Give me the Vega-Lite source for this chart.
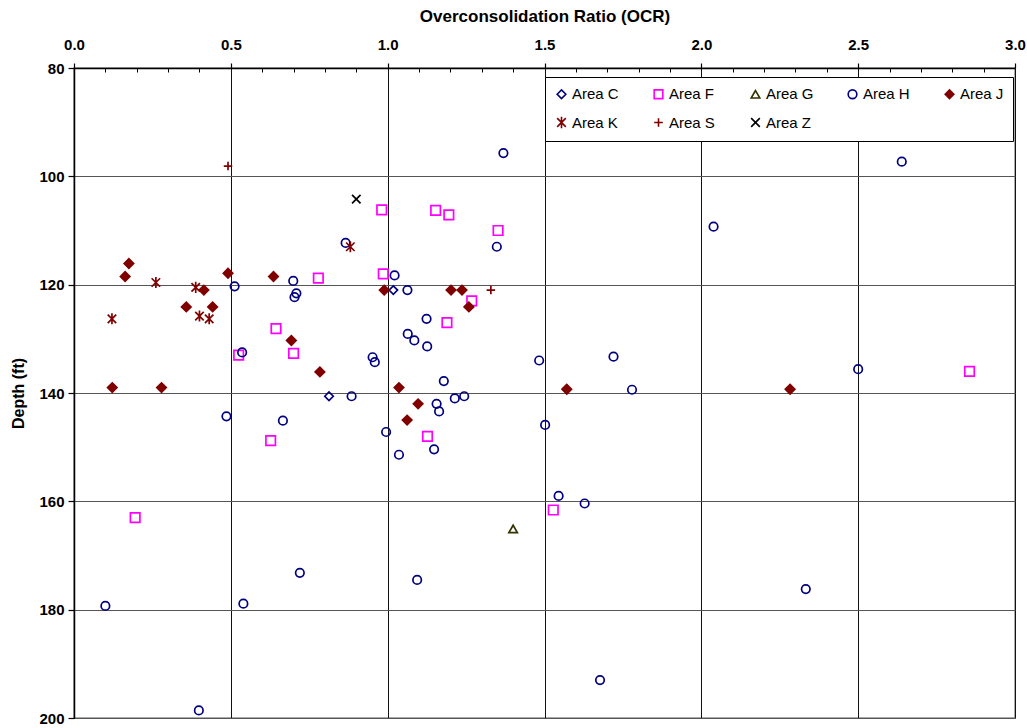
{
  "$schema": "https://vega.github.io/schema/vega-lite/v6.json",
  "autosize": "none",
  "width": 941,
  "height": 650,
  "padding": {"left": 74, "top": 68, "right": 12, "bottom": 10},
  "background": "white",
  "config": {
    "font": "Liberation Sans",
    "view": {"stroke": "#909090", "strokeWidth": 1.5}
  },
  "data": {
    "values": [
      {"area": "Area C", "ocr": 1.018, "depth": 121.0},
      {"area": "Area C", "ocr": 0.813, "depth": 140.6},
      {"area": "Area F", "ocr": 0.981, "depth": 106.2},
      {"area": "Area F", "ocr": 1.153, "depth": 106.3},
      {"area": "Area F", "ocr": 1.195, "depth": 107.1},
      {"area": "Area F", "ocr": 1.352, "depth": 110.0},
      {"area": "Area F", "ocr": 0.779, "depth": 118.8},
      {"area": "Area F", "ocr": 0.986, "depth": 118.0},
      {"area": "Area F", "ocr": 1.268, "depth": 123.0},
      {"area": "Area F", "ocr": 1.189, "depth": 127.0},
      {"area": "Area F", "ocr": 0.644, "depth": 128.1},
      {"area": "Area F", "ocr": 0.525, "depth": 133.0},
      {"area": "Area F", "ocr": 0.700, "depth": 132.7},
      {"area": "Area F", "ocr": 0.627, "depth": 148.8},
      {"area": "Area F", "ocr": 1.127, "depth": 148.0},
      {"area": "Area F", "ocr": 0.195, "depth": 163.0},
      {"area": "Area F", "ocr": 1.528, "depth": 161.6},
      {"area": "Area F", "ocr": 2.855, "depth": 136.0},
      {"area": "Area G", "ocr": 1.400, "depth": 165.1},
      {"area": "Area H", "ocr": 1.369, "depth": 95.7},
      {"area": "Area H", "ocr": 2.639, "depth": 97.3},
      {"area": "Area H", "ocr": 2.039, "depth": 109.3},
      {"area": "Area H", "ocr": 0.866, "depth": 112.3},
      {"area": "Area H", "ocr": 1.348, "depth": 113.0},
      {"area": "Area H", "ocr": 0.699, "depth": 119.3},
      {"area": "Area H", "ocr": 1.022, "depth": 118.3},
      {"area": "Area H", "ocr": 0.512, "depth": 120.3},
      {"area": "Area H", "ocr": 1.063, "depth": 121.0},
      {"area": "Area H", "ocr": 0.709, "depth": 121.6},
      {"area": "Area H", "ocr": 0.703, "depth": 122.3},
      {"area": "Area H", "ocr": 1.124, "depth": 126.3},
      {"area": "Area H", "ocr": 1.064, "depth": 129.1},
      {"area": "Area H", "ocr": 1.085, "depth": 130.3},
      {"area": "Area H", "ocr": 1.126, "depth": 131.4},
      {"area": "Area H", "ocr": 0.536, "depth": 132.5},
      {"area": "Area H", "ocr": 0.952, "depth": 133.4},
      {"area": "Area H", "ocr": 0.959, "depth": 134.3},
      {"area": "Area H", "ocr": 1.483, "depth": 134.0},
      {"area": "Area H", "ocr": 1.720, "depth": 133.3},
      {"area": "Area H", "ocr": 2.500, "depth": 135.6},
      {"area": "Area H", "ocr": 1.179, "depth": 137.8},
      {"area": "Area H", "ocr": 1.779, "depth": 139.4},
      {"area": "Area H", "ocr": 0.885, "depth": 140.6},
      {"area": "Area H", "ocr": 1.244, "depth": 140.6},
      {"area": "Area H", "ocr": 1.214, "depth": 141.0},
      {"area": "Area H", "ocr": 1.156, "depth": 142.0},
      {"area": "Area H", "ocr": 1.164, "depth": 143.4},
      {"area": "Area H", "ocr": 0.486, "depth": 144.3},
      {"area": "Area H", "ocr": 0.666, "depth": 145.1},
      {"area": "Area H", "ocr": 1.502, "depth": 145.9},
      {"area": "Area H", "ocr": 0.995, "depth": 147.2},
      {"area": "Area H", "ocr": 1.148, "depth": 150.4},
      {"area": "Area H", "ocr": 1.036, "depth": 151.4},
      {"area": "Area H", "ocr": 1.545, "depth": 159.0},
      {"area": "Area H", "ocr": 1.628, "depth": 160.4},
      {"area": "Area H", "ocr": 0.720, "depth": 173.2},
      {"area": "Area H", "ocr": 1.094, "depth": 174.5},
      {"area": "Area H", "ocr": 0.100, "depth": 179.3},
      {"area": "Area H", "ocr": 0.540, "depth": 178.9},
      {"area": "Area H", "ocr": 2.333, "depth": 176.2},
      {"area": "Area H", "ocr": 1.677, "depth": 193.0},
      {"area": "Area H", "ocr": 0.398, "depth": 198.6},
      {"area": "Area J", "ocr": 0.175, "depth": 116.1},
      {"area": "Area J", "ocr": 0.163, "depth": 118.5},
      {"area": "Area J", "ocr": 0.491, "depth": 117.9},
      {"area": "Area J", "ocr": 0.636, "depth": 118.5},
      {"area": "Area J", "ocr": 0.414, "depth": 121.0},
      {"area": "Area J", "ocr": 0.989, "depth": 121.0},
      {"area": "Area J", "ocr": 1.202, "depth": 121.0},
      {"area": "Area J", "ocr": 1.237, "depth": 121.0},
      {"area": "Area J", "ocr": 0.358, "depth": 124.1},
      {"area": "Area J", "ocr": 0.442, "depth": 124.1},
      {"area": "Area J", "ocr": 1.259, "depth": 124.1},
      {"area": "Area J", "ocr": 0.693, "depth": 130.3},
      {"area": "Area J", "ocr": 0.784, "depth": 136.1},
      {"area": "Area J", "ocr": 0.122, "depth": 139.0},
      {"area": "Area J", "ocr": 0.279, "depth": 139.0},
      {"area": "Area J", "ocr": 1.036, "depth": 139.0},
      {"area": "Area J", "ocr": 1.571, "depth": 139.3},
      {"area": "Area J", "ocr": 2.283, "depth": 139.3},
      {"area": "Area J", "ocr": 1.097, "depth": 142.0},
      {"area": "Area J", "ocr": 1.062, "depth": 145.0},
      {"area": "Area K", "ocr": 0.881, "depth": 113.0},
      {"area": "Area K", "ocr": 0.261, "depth": 119.6},
      {"area": "Area K", "ocr": 0.388, "depth": 120.5},
      {"area": "Area K", "ocr": 0.121, "depth": 126.3},
      {"area": "Area K", "ocr": 0.400, "depth": 125.8},
      {"area": "Area K", "ocr": 0.431, "depth": 126.3},
      {"area": "Area S", "ocr": 0.491, "depth": 98.1},
      {"area": "Area S", "ocr": 1.329, "depth": 121.0},
      {"area": "Area Z", "ocr": 0.900, "depth": 104.2}
    ]
  },
  "resolve": {"axis": {"x": "independent", "y": "independent"}},
  "layer": [
    {
      "mark": {"type": "point", "opacity": 1, "strokeWidth": 1.7, "fillOpacity": 1},
      "encoding": {
        "x": {
          "field": "ocr", "type": "quantitative",
          "scale": {"domain": [0, 3], "nice": false, "zero": false},
          "axis": {
            "orient": "top", "title": "Overconsolidation Ratio (OCR)",
            "values": [0, 0.5, 1, 1.5, 2, 2.5, 3], "format": ".1f", "labelFlush": false,
            "labelFont": "Liberation Sans", "labelFontSize": 15, "labelFontWeight": "bold", "labelColor": "#000",
            "titleFont": "Liberation Sans", "titleFontSize": 17, "titleFontWeight": "bold", "titleColor": "#000",
            "titlePadding": 12, "labelPadding": 11,
            "domainColor": "#000", "domainWidth": 1.5,
            "tickColor": "#000", "tickSize": 5, "tickWidth": 1.2,
            "grid": true, "gridColor": "#111", "gridWidth": 1
          }
        },
        "y": {
          "field": "depth", "type": "quantitative",
          "scale": {"domain": [80, 200], "reverse": true, "nice": false, "zero": false},
          "axis": {
            "orient": "left", "title": "Depth (ft)",
            "values": [80, 100, 120, 140, 160, 180, 200], "labelFlush": false,
            "labelFont": "Liberation Sans", "labelFontSize": 15, "labelFontWeight": "bold", "labelColor": "#000",
            "titleFont": "Liberation Sans", "titleFontSize": 16, "titleFontWeight": "bold", "titleColor": "#000",
            "titlePadding": 12, "labelPadding": 4,
            "domainColor": "#000", "domainWidth": 1.5,
            "tickColor": "#000", "tickSize": 6, "tickWidth": 1.2,
            "grid": true, "gridColor": "#555", "gridWidth": 1
          }
        },
        "shape": {
          "field": "area", "type": "nominal",
          "scale": {
            "domain": ["Area C", "Area F", "Area G", "Area H", "Area J", "Area K", "Area S", "Area Z"],
            "range": ["diamond", "square", "triangle-up", "circle", "diamond",
              "M-1,-1L1,1M-1,1L1,-1M0,-1.3V1.3", "M-1,0H1M0,-1V1", "M-1,-1L1,1M-1,1L1,-1"]
          },
          "legend": {
            "title": null, "orient": "none", "legendX": 471, "legendY": 9,
            "direction": "horizontal", "columns": 5, "gridAlign": "all",
            "columnPadding": 30, "rowPadding": 10,
            "padding": 9, "strokeColor": "#000", "fillColor": "white",
            "labelFont": "Liberation Sans", "labelFontSize": 15, "labelColor": "#000",
            "symbolSize": 75, "symbolStrokeWidth": 1.6, "labelOffset": 3
          }
        },
        "stroke": {
          "field": "area", "type": "nominal",
          "scale": {
            "domain": ["Area C", "Area F", "Area G", "Area H", "Area J", "Area K", "Area S", "Area Z"],
            "range": ["#000080", "#FF00FF", "#333300", "#000080", "#800000", "#800000", "#800000", "#000000"]
          }
        },
        "fill": {
          "field": "area", "type": "nominal",
          "scale": {
            "domain": ["Area C", "Area F", "Area G", "Area H", "Area J", "Area K", "Area S", "Area Z"],
            "range": ["transparent", "transparent", "transparent", "transparent", "#800000", "transparent", "transparent", "transparent"]
          }
        },
        "size": {
          "condition": {"test": "datum.area === 'Area F' || datum.area === 'Area J'", "value": 90},
          "value": 72
        }
      }
    },
    {
      "mark": {"type": "point", "opacity": 0},
      "encoding": {
        "x": {
          "field": "ocr", "type": "quantitative",
          "axis": {
            "orient": "top", "title": null, "labels": false, "grid": false, "domain": false,
            "values": [0.1, 0.2, 0.3, 0.4, 0.6, 0.7, 0.8, 0.9, 1.1, 1.2, 1.3, 1.4, 1.6, 1.7, 1.8, 1.9, 2.1, 2.2, 2.3, 2.4, 2.6, 2.7, 2.8, 2.9],
            "tickColor": "#000", "tickSize": -4, "tickWidth": 1
          }
        },
        "y": {"field": "depth", "type": "quantitative", "axis": null}
      }
    }
  ]
}
